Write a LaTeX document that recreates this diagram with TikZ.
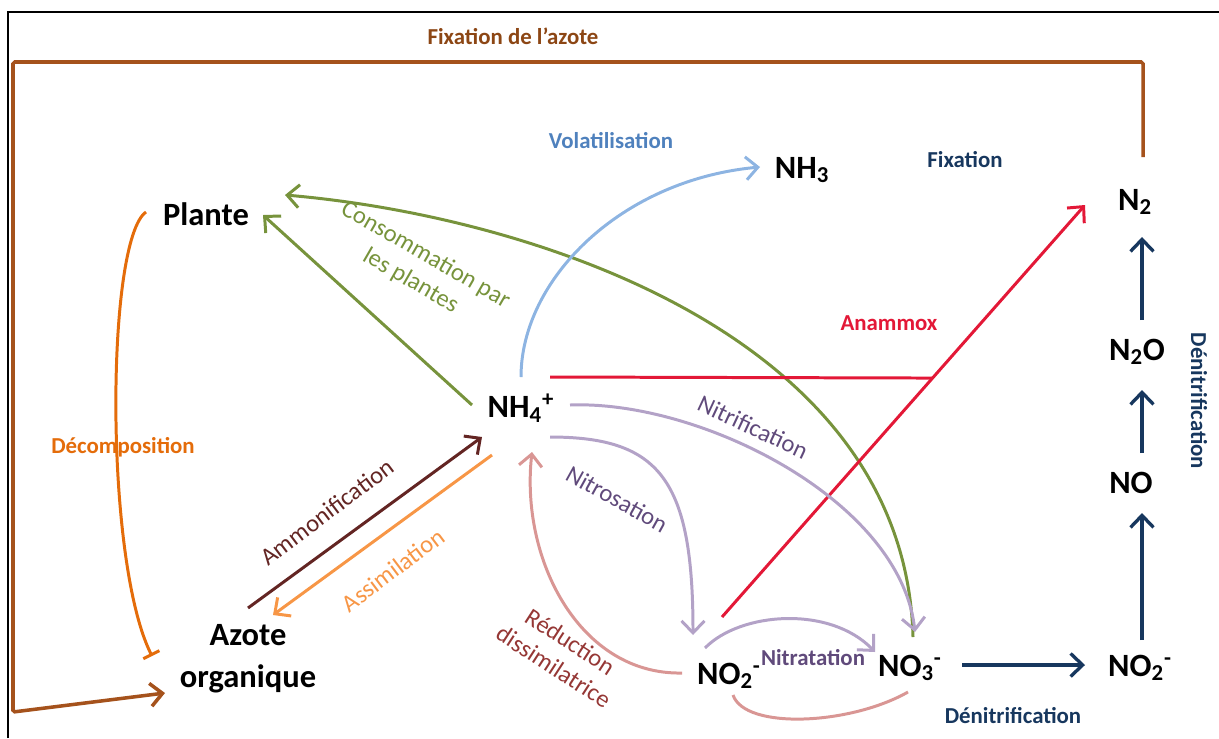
\documentclass[tikz,border=0pt]{standalone}
\usepackage{fontspec}
\setmainfont{Carlito}
\usetikzlibrary{arrows.meta,calc}

\definecolor{fixbrown}{RGB}{165,82,28}
\definecolor{fixtext}{RGB}{140,70,20}
\definecolor{decorange}{RGB}{228,108,10}
\definecolor{plantgreen}{RGB}{119,147,60}
\definecolor{volline}{RGB}{141,180,226}
\definecolor{voltext}{RGB}{79,129,189}
\definecolor{anared}{RGB}{227,24,55}
\definecolor{nitline}{RGB}{179,162,199}
\definecolor{nittext}{RGB}{96,74,123}
\definecolor{redline}{RGB}{217,150,148}
\definecolor{redtext}{RGB}{149,55,53}
\definecolor{ammobrown}{RGB}{99,37,35}
\definecolor{assorange}{RGB}{247,150,70}
\definecolor{denavy}{RGB}{23,55,94}

\tikzset{
  chem/.style={font=\fontsize{18.5}{24}\selectfont\bfseries, inner sep=1pt},
  lbl/.style={font=\fontsize{13}{15}\selectfont\bfseries},
  proc/.style={font=\fontsize{14}{17}\selectfont, align=center},
  flow/.style={line width=1.7pt, -{Straight Barb[length=2.4mm,width=4.6mm]}}
}

\begin{document}
\begin{tikzpicture}[x=0.02cm, y=-0.02cm]

    \useasboundingbox (0,0) rectangle (1219,738);
    \draw[line width=1.4pt] (8,738) -- (8,12) -- (1219,12);

    % especes
    \node[chem] (plante) at (206,214) {Plante};
    \node[chem] (nh3) at (802,170) {NH\textsubscript{3}};
    \node[chem] (n2) at (1135,202) {N\textsubscript{2}};
    \node[chem] (nh4) at (521,408) {NH\textsubscript{4}\textsuperscript{+}};
    \node[chem] (n2o) at (1137,352) {N\textsubscript{2}O};
    \node[chem] (no) at (1131,483) {NO};
    \node[chem, align=center] (azo) at (248,659) {Azote\\organique};
    \node[chem] (noii) at (729,676) {NO\textsubscript{2}\textsuperscript{-}};
    \node[chem] (noiii) at (910,668) {NO\textsubscript{3}\textsuperscript{-}};
    \node[chem] (noiir) at (1140,668) {NO\textsubscript{2}\textsuperscript{-}};

    % fixation et decomposition
    \draw[fixbrown, flow, line width=2pt, rounded corners=1pt] ($(n2)+(8,-45)$) -- (1143,62) -- (13,62) -- (13,712) -- ($(azo)+(-83,34)$);
    \draw[decorange, line width=1.7pt, -{Bar[width=3.6mm]}] ($(plante)+(-60,-2)$) .. controls (106,240) and (104,560) .. ($(azo)+(-96,-3)$);

    % vers la plante
    \draw[plantgreen, flow] ($(nh4)+(-49,-3)$) -- ($(plante)+(57,1)$);
    \draw[plantgreen, flow] ($(noiii)+(3,-31)$) .. controls (905,330) and (520,215) .. ($(plante)+(79,-19)$);

    % volatilisation
    \draw[volline, flow] ($(nh4)+(0,-31)$) .. controls (521,280) and (620,180) .. ($(nh3)+(-42,-3)$);

    % anammox
    \draw[anared, flow] ($(noii)+(-7,-59)$) -- coordinate[pos=0.58] (amx) ($(n2)+(-50,3)$);
    \draw[anared, line width=1.7pt] ($(nh4)+(29,-31)$) -- (amx);

    % nitrification
    \draw[nitline, flow] ($(nh4)+(49,-3)$) .. controls (700,400) and (900,500) .. ($(noiii)+(5,-36)$);
    \draw[nitline, flow] ($(nh4)+(29,29)$) .. controls (660,437) and (693,480) .. ($(noii)+(-36,-41)$);
    \draw[nitline, flow] ($(noii)+(-24,-28)$) .. controls (740,612) and (830,605) .. ($(noiii)+(-35,-16)$);

    % reduction dissimilatrice
    \draw[redline, flow] ($(noii)+(-47,-3)$) .. controls (580,675) and (520,560) .. ($(nh4)+(11,44)$);
    \draw[redline, line width=1.7pt] ($(noii)+(4,19)$) .. controls (745,730) and (850,725) .. ($(noiii)+(-2,24)$);

    % ammonification et assimilation
    \draw[ammobrown, flow] ($(azo)+(0,-51)$) -- ($(nh4)+(-39,29)$);
    \draw[assorange, flow] ($(nh4)+(-29,47)$) -- ($(azo)+(25,-44)$);

    % denitrification
    \draw[denavy, flow, line width=1.9pt] ($(noiii)+(52,-3)$) -- ($(noiir)+(-55,-3)$);
    \draw[denavy, flow, line width=1.9pt] ($(noiir)+(2,-28)$) -- ($(no)+(11,30)$);
    \draw[denavy, flow, line width=1.9pt] ($(no)+(11,-30)$) -- ($(n2o)+(5,38)$);
    \draw[denavy, flow, line width=1.9pt] ($(n2o)+(5,-32)$) -- ($(n2)+(7,35)$);

    % etiquettes
    \node[lbl, fixtext] (lfix) at (513,36) {Fixation de l'azote};
    \node[lbl, voltext] (lvol) at (611,141) {Volatilisation};
    \node[lbl, denavy] (lfixn) at (965,160) {Fixation};
    \node[lbl, anared] (lana) at (889,323) {Anammox};
    \node[lbl, decorange] (ldec) at (123,447) {Décomposition};
    \node[lbl, nittext] (lntt) at (813,658) {Nitratation};
    \node[lbl, denavy] (ldenb) at (1013,716) {Dénitrification};
    \node[lbl, denavy, rotate=-90] (ldenv) at (1199,401) {Dénitrification};
    \node[proc, plantgreen, rotate=-30] (lcons) at (418,268) {Consommation par\\les plantes};
    \node[proc, ammobrown, rotate=37] (lamm) at (327,512) {Ammonification};
    \node[proc, assorange, rotate=37] (lass) at (393,570) {Assimilation};
    \node[proc, nittext, rotate=-25] (lnit) at (753,427) {Nitrification};
    \node[proc, nittext, rotate=-29] (lnis) at (617,499) {Nitrosation};
    \node[proc, redtext, rotate=-33] (lred) at (562,654) {Réduction\\dissimilatrice};

\end{tikzpicture}
\end{document}
